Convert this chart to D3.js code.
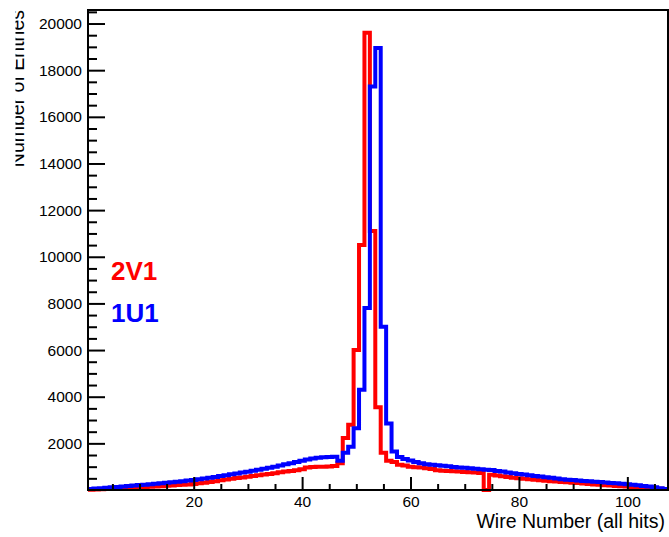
<!DOCTYPE html>
<html>
<head>
<meta charset="utf-8">
<script src="https://cdn.jsdelivr.net/npm/d3@7"></script>
<style>
  html, body { margin: 0; padding: 0; background: #fff; }
  svg { display: block; }
  text { font-family: "Liberation Sans", Arial, sans-serif; }
</style>
</head>
<body>
<svg id="chart" width="669" height="537"></svg>
<script>
// Wire numbers (bin centers) 1..107
const wires = d3.range(1, 108);

// 2V1 (red) entries per wire
const counts2V1 = [
  15, 25, 35, 45, 55, 65, 75, 85, 100, 115,
  125, 140, 150, 165, 180, 195, 210, 225, 240, 260,
  285, 315, 345, 380, 420, 450, 480, 510, 540, 570,
  600, 630, 660, 690, 720, 760, 790, 820, 850, 890,
  960, 990, 1000, 1000, 1010, 1030, 1150, 2230, 2800, 6000,
  10500, 19600, 11100, 3550, 1600, 1250, 1200, 1080, 1050, 1000,
  980, 960, 930, 900, 850, 830, 810, 800, 790, 770,
  760, 745, 730, 0, 650, 620, 590, 560, 530, 500,
  480, 460, 440, 420, 400, 380, 360, 345, 330, 315,
  300, 280, 260, 240, 220, 200, 190, 175, 160, 145,
  130, 115, 100, 80, 65, 50, 40
];

// 1U1 (blue) entries per wire
const counts1U1 = [
  40, 60, 75, 95, 115, 130, 150, 170, 190, 215,
  230, 250, 270, 290, 310, 330, 355, 380, 405, 430,
  460, 490, 525, 560, 600, 630, 670, 705, 745, 785,
  825, 870, 910, 955, 1000, 1050, 1100, 1150, 1200, 1255,
  1310, 1350, 1380, 1400, 1410, 1430, 1250, 1600, 1850, 2650,
  4300, 7800, 17300, 18950, 7000, 2850, 1650, 1420, 1330, 1260,
  1200, 1150, 1100, 1080, 1060, 1040, 1020, 990, 970, 950,
  930, 910, 890, 870, 860, 820, 790, 750, 720, 690,
  660, 630, 600, 575, 550, 520, 490, 465, 440, 430,
  410, 390, 370, 355, 340, 320, 300, 285, 265, 250,
  225, 200, 175, 145, 115, 80, 45
];

const xMajorTicks = [20, 40, 60, 80, 100];
const xMinorTicks = [5, 10, 15, 25, 30, 35, 45, 50, 55, 65, 70, 75, 85, 90, 95, 105];
const yMajorTicks = [2000, 4000, 6000, 8000, 10000, 12000, 14000, 16000, 18000, 20000];
const yMinorTicks = d3.range(500, 20501, 500).filter(v => v % 2000 !== 0);

const seriesNames = ["2V1", "1U1"];
const seriesColors = ["#ff0000", "#0000ff"];

const svg = d3.select("#chart");
const L = 88, R = 668, T = 10, B = 490;

const x = d3.scaleLinear().domain([0.5, 107.5]).range([L, R]);
const y = d3.scaleLinear().domain([0, 20580]).range([B, T]);

// Histogram step paths
function stepPath(values) {
  const pts = [];
  values.forEach((v, i) => {
    const c = wires[i];
    pts.push([x(c - 0.5), y(v)]);
    pts.push([x(c + 0.5), y(v)]);
  });
  return d3.line()(pts);
}

const plot = svg.append("g");
[counts2V1, counts1U1].forEach((vals, k) => {
  plot.append("path")
    .attr("d", stepPath(vals))
    .attr("fill", "none")
    .attr("stroke", seriesColors[k])
    .attr("stroke-width", 4)
    .attr("stroke-linejoin", "miter")
    .attr("stroke-linecap", "butt");
});

// Y axis
const yMajor = svg.append("g").attr("transform", `translate(${L},0)`)
  .call(d3.axisLeft(y).tickValues(yMajorTicks).tickSize(-17).tickPadding(6).tickFormat(d3.format("d")));
const yMinor = svg.append("g").attr("transform", `translate(${L},0)`)
  .call(d3.axisLeft(y).tickValues(yMinorTicks).tickSize(-9).tickFormat(""));

// X axis
const xMajor = svg.append("g").attr("transform", `translate(0,${B})`)
  .call(d3.axisBottom(x).tickValues(xMajorTicks).tickSize(-13).tickPadding(6).tickFormat(d3.format("d")));
const xMinor = svg.append("g").attr("transform", `translate(0,${B})`)
  .call(d3.axisBottom(x).tickValues(xMinorTicks).tickSize(-6).tickFormat(""));

[yMajor, yMinor, xMajor, xMinor].forEach(g => {
  g.select(".domain").remove();
  g.selectAll("line").attr("stroke", "#000").attr("stroke-width", 2);
  g.selectAll("text").attr("fill", "#000").style("font-size", "15.5px")
    .style("font-family", '"Liberation Sans", Arial, sans-serif');
});

// Frame
svg.append("rect")
  .attr("x", L).attr("y", T).attr("width", R - L).attr("height", B - T)
  .attr("fill", "none").attr("stroke", "#000").attr("stroke-width", 2);

// Axis titles
svg.append("text")
  .attr("x", 665).attr("y", 528)
  .attr("text-anchor", "end")
  .style("font-size", "19.5px")
  .attr("fill", "#000")
  .text("Wire Number (all hits)");

svg.append("clipPath").attr("id", "ytclip")
  .append("rect").attr("x", 15.5).attr("y", 0).attr("width", 60).attr("height", 537);
svg.append("g").attr("clip-path", "url(#ytclip)")
  .append("text")
  .attr("transform", "translate(24,10) rotate(-90)")
  .attr("text-anchor", "end")
  .style("font-size", "19.5px")
  .attr("fill", "#000")
  .text("Number of Entries");

// Legend labels
const legendY = [280, 322];
seriesNames.forEach((name, k) => {
  svg.append("text")
    .attr("x", 111).attr("y", legendY[k])
    .style("font-size", "26px").style("font-weight", "bold")
    .attr("fill", seriesColors[k])
    .text(name);
});
</script>
</body>
</html>
